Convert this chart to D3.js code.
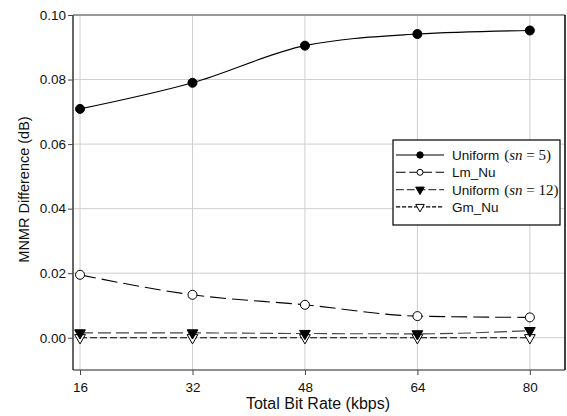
<!DOCTYPE html>
<html>
<head>
<meta charset="utf-8">
<script src="https://cdn.jsdelivr.net/npm/d3@7"></script>
<style>
  body { margin: 0; background: #fff; }
  svg { display: block; font-family: Arial, "Liberation Sans", sans-serif; }
</style>
</head>
<body>
<svg id="chart" width="567" height="416"></svg>
<script>
// Total bit rate (kbps)
const bitRates = [16, 32, 48, 64, 80];
// MNMR difference (dB) per scheme
const uniformSn5 = [0.0709, 0.0790, 0.0905, 0.0941, 0.0952];
const lmNu = [0.0195, 0.0133, 0.0102, 0.0067, 0.0063];
const uniformSn12 = [0.0015, 0.0015, 0.0013, 0.0012, 0.0022];
const gmNu = [0.0, 0.0, 0.0, 0.0, 0.0];
const yTicks = [0.00, 0.02, 0.04, 0.06, 0.08, 0.10];

const svg = d3.select("#chart");
const m = { left: 73, top: 15, right: 565, bottom: 370 };

const x = d3.scaleLinear().domain([15, 85]).range([m.left, m.right]);
const y = d3.scaleLinear().domain([-0.01, 0.10]).range([m.bottom, m.top]);

// grid
const grid = svg.append("g");
grid.selectAll(".gx").data(bitRates).join("line")
  .attr("x1", d => x(d)).attr("x2", d => x(d))
  .attr("y1", m.top).attr("y2", m.bottom)
  .attr("stroke", "#cfcfcf").attr("stroke-width", 1);
grid.selectAll(".gy").data(yTicks).join("line")
  .attr("x1", m.left).attr("x2", m.right)
  .attr("y1", d => y(d)).attr("y2", d => y(d))
  .attr("stroke", "#cfcfcf").attr("stroke-width", 1);

// frame: top and right
svg.append("line").attr("x1", m.left).attr("x2", m.right).attr("y1", m.top).attr("y2", m.top)
  .attr("stroke", "#999").attr("stroke-width", 2);
svg.append("line").attr("x1", m.right).attr("x2", m.right).attr("y1", m.top).attr("y2", m.bottom)
  .attr("stroke", "#000").attr("stroke-width", 1.5);

// axes
const yAxis = svg.append("g").attr("transform", `translate(${m.left},0)`)
  .call(d3.axisLeft(y).tickValues(yTicks).tickFormat(d3.format(".2f")).tickSize(5).tickPadding(2));
const xAxis = svg.append("g").attr("transform", `translate(0,${m.bottom})`)
  .call(d3.axisBottom(x).tickValues(bitRates).tickSize(5).tickPadding(7));
yAxis.select(".domain").attr("stroke", "#666").attr("stroke-width", 2).attr("d", `M0,${m.top}V${m.bottom}`);
xAxis.select(".domain").attr("stroke", "#222").attr("stroke-width", 1.2).attr("d", `M${m.left},0H${m.right}`);
[yAxis, xAxis].forEach(a => {
  a.selectAll("text").attr("font-size", 13.5).attr("fill", "#111")
    .attr("font-family", "Arial, 'Liberation Sans', sans-serif");
  a.selectAll(".tick line").attr("stroke", "#444");
});

// axis titles
svg.append("text").attr("x", 318).attr("y", 409)
  .attr("text-anchor", "middle").attr("font-size", 16).attr("fill", "#111")
  .text("Total Bit Rate (kbps)");
svg.append("text").attr("transform", `translate(29,${(m.top + m.bottom) / 2 - 3}) rotate(-90)`)
  .attr("text-anchor", "middle").attr("font-size", 14.5).attr("fill", "#111")
  .text("MNMR Difference (dB)");

const series = [
  { values: uniformSn5, color: "#000", dash: null, marker: "circle", fill: "#000", label: "Uniform", sn: "5" },
  { values: lmNu, color: "#000", dash: "16,6", marker: "circle", fill: "#fff", label: "Lm_Nu" },
  { values: uniformSn12, color: "#444", dash: "13,5", marker: "tri", fill: "#000", label: "Uniform", sn: "12" },
  { values: gmNu, color: "#000", dash: "7,3", marker: "tri", fill: "#fff", label: "Gm_Nu" }
];

const line = d3.line().x(d => x(d[0])).y(d => y(d[1])).curve(d3.curveMonotoneX);

function drawMarker(g, s, cx, cy) {
  if (s.marker === "circle") {
    g.append("circle").attr("cx", cx).attr("cy", cy).attr("r", 4.5)
      .attr("fill", s.fill).attr("stroke", "#000").attr("stroke-width", 1);
  } else {
    const sym = d3.symbol().type(d3.symbolTriangle).size(50)();
    g.append("path").attr("d", sym)
      .attr("transform", `translate(${cx},${cy}) rotate(180)`)
      .attr("fill", s.fill).attr("stroke", "#000").attr("stroke-width", 1);
  }
}

series.slice().reverse().forEach(s => {
  const pts = bitRates.map((b, i) => [b, s.values[i]]);
  svg.append("path").datum(pts).attr("d", line)
    .attr("fill", "none").attr("stroke", s.color).attr("stroke-width", 1.1)
    .attr("stroke-dasharray", s.dash);
  const g = svg.append("g");
  pts.forEach(p => drawMarker(g, s, x(p[0]), y(p[1])));
});

// legend
const lg = svg.append("g");
lg.append("rect").attr("x", 393).attr("y", 140).attr("width", 167).attr("height", 85)
  .attr("fill", "#fff").attr("stroke", "#000").attr("stroke-width", 1.2);
series.forEach((s, i) => {
  const ly = 155 + i * 17.3;
  lg.append("line").attr("x1", 396).attr("x2", 444).attr("y1", ly).attr("y2", ly)
    .attr("stroke", s.color).attr("stroke-width", 1.1)
    .attr("stroke-dasharray", s.dash ? s.dash.split(",").map(v => v * 0.6).join(",") : null);
  const mg = lg.append("g");
  if (s.marker === "circle") {
    mg.append("circle").attr("cx", 420).attr("cy", ly).attr("r", s.fill === "#000" ? 3.2 : 3)
      .attr("fill", s.fill).attr("stroke", "#000");
  } else {
    mg.append("path").attr("d", d3.symbol().type(d3.symbolTriangle).size(32)())
      .attr("transform", `translate(420,${ly}) rotate(180)`)
      .attr("fill", s.fill).attr("stroke", "#000");
  }
  const t = lg.append("text").attr("x", 452).attr("y", ly + 5).attr("font-size", 13.5).attr("fill", "#111");
  t.append("tspan").text(s.label);
  if (s.sn) {
    const serif = "'Liberation Serif', 'Times New Roman', serif";
    t.append("tspan").attr("font-family", serif).attr("font-size", 15).attr("dx", 5).text("(");
    t.append("tspan").attr("font-family", serif).attr("font-size", 15).attr("font-style", "italic").text("sn");
    t.append("tspan").attr("font-family", serif).attr("font-size", 15).text(" = " + s.sn + ")");
  }
});
</script>
</body>
</html>
